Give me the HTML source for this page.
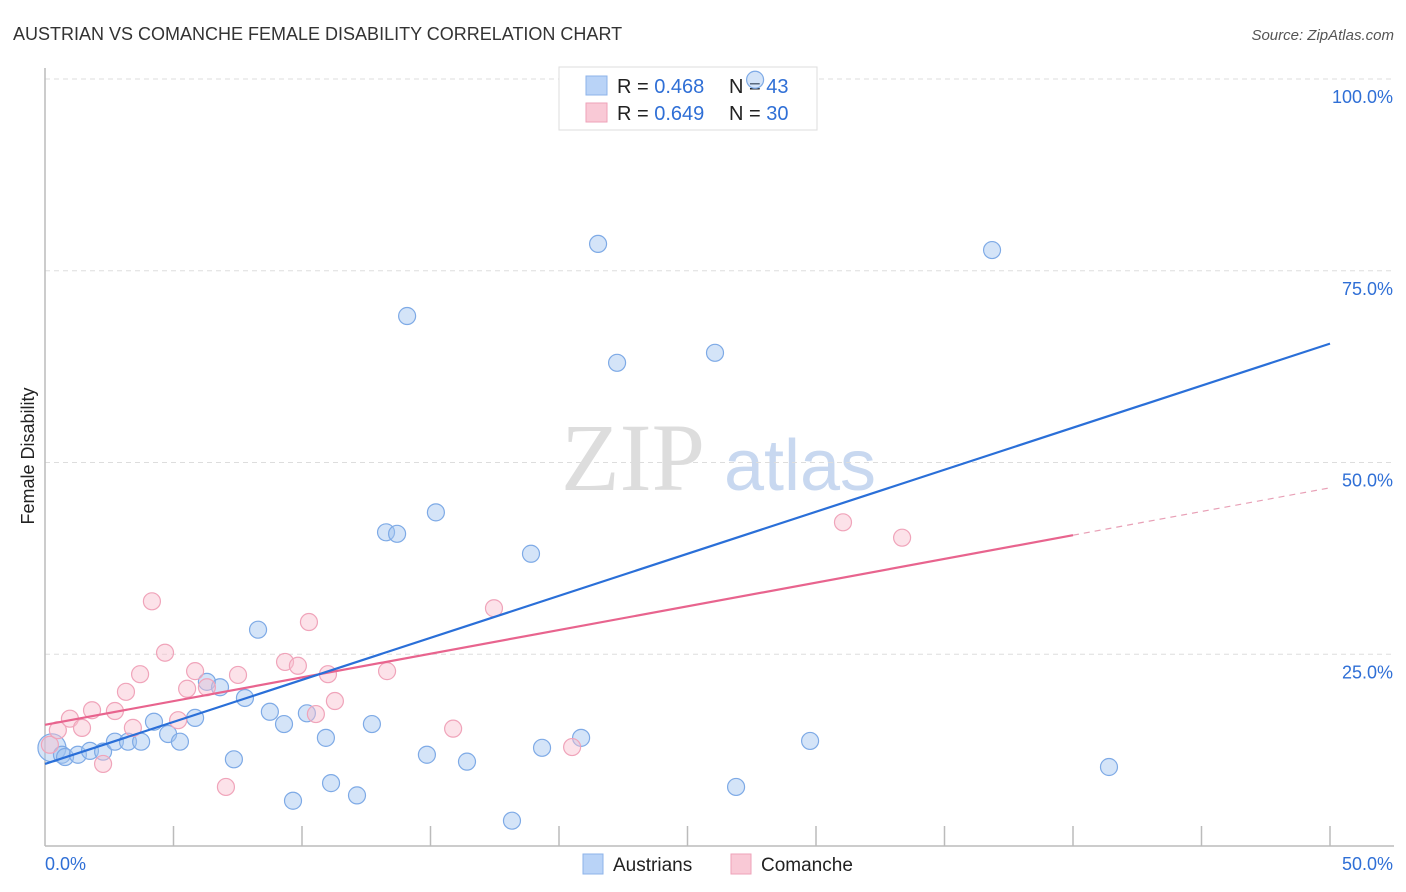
<!DOCTYPE html>
<html><head><meta charset="utf-8"><style>
body{margin:0;background:#fff;font-family:"Liberation Sans",sans-serif;}
svg{display:block}
</style></head><body>
<svg id="chart" width="1406" height="892">
<text x="13" y="40" font-size="18" fill="#333">AUSTRIAN VS COMANCHE FEMALE DISABILITY CORRELATION CHART</text>
<text x="1394" y="40" font-size="15" fill="#555" font-style="italic" text-anchor="end">Source: ZipAtlas.com</text>
<g>
<text x="633" y="490" font-size="96" font-family="Liberation Serif,serif" fill="#ddd" text-anchor="middle">ZIP</text>
<text x="800" y="490" font-size="72" fill="#c8d8f0" text-anchor="middle">atlas</text>
</g>
<text transform="translate(34,456) rotate(-90)" font-size="18" fill="#222" text-anchor="middle">Female Disability</text>
<g id="grid"></g><g id="axes"></g>
<g>
<rect x="559" y="67" width="258" height="63" fill="#fff" stroke="#ddd"/>
<rect x="586" y="76" width="21" height="19" fill="#b9d3f7" stroke="#8db3ea"/>
<text x="617" y="93" font-size="20" fill="#222">R = <tspan fill="#2f6fd6">0.468</tspan><tspan x="729">N = </tspan><tspan fill="#2f6fd6">43</tspan></text>
<rect x="586" y="103" width="21" height="19" fill="#f9c9d6" stroke="#eea2b8"/>
<text x="617" y="120" font-size="20" fill="#222">R = <tspan fill="#2f6fd6">0.649</tspan><tspan x="729">N = </tspan><tspan fill="#2f6fd6">30</tspan></text>
</g>
<g id="marks"></g>
<g>
<rect x="583" y="854" width="20" height="20" fill="#b9d3f7" stroke="#8db3ea"/>
<text x="613" y="871" font-size="19" fill="#222">Austrians</text>
<rect x="731" y="854" width="20" height="20" fill="#f9c9d6" stroke="#eea2b8"/>
<text x="761" y="871" font-size="19" fill="#222">Comanche</text>
</g>
</svg>
<script>
const blueX=[0.27,0.66,0.78,1.28,1.75,2.26,2.72,3.23,3.74,4.24,4.79,5.25,5.84,6.30,6.81,7.35,7.78,8.29,8.75,9.30,9.65,10.19,10.93,11.13,12.14,12.72,13.27,13.70,14.09,14.86,15.21,16.42,18.17,18.91,19.34,20.86,21.52,22.26,26.07,26.89,27.63,29.77,36.85,41.40];
const blueY=[12.8,11.9,11.6,11.9,12.4,12.3,13.6,13.6,13.6,16.2,14.6,13.6,16.7,21.4,20.7,11.3,19.3,28.2,17.5,15.9,5.9,17.3,14.1,8.2,6.6,15.9,40.9,40.7,69.1,11.9,43.5,11.0,3.3,38.1,12.8,14.1,78.5,63.0,64.3,7.7,99.9,13.7,77.7,10.3];
const pinkX=[0.19,0.5,0.97,1.44,1.83,2.26,2.72,3.15,3.42,3.70,4.16,4.67,5.18,5.53,5.84,6.30,7.04,7.51,9.34,9.84,10.27,10.54,11.01,11.28,13.31,15.88,17.47,20.51,31.05,33.35];
const pinkY=[13.2,15.1,16.6,15.4,17.7,10.7,17.6,20.1,15.4,22.4,31.9,25.2,16.4,20.5,22.8,20.7,7.7,22.3,24.0,23.5,29.2,17.2,22.4,18.9,22.8,15.3,31.0,12.9,42.2,40.2];
const blueTrend=[10.7,65.5];
const pinkTrend=[15.8,46.7];
const pinkSolidEnd=40;
const yTicks=[25,50,75,100];
const yTickLabels=["25.0%","50.0%","75.0%","100.0%"];
const xTickCount=10;

const NS="http://www.w3.org/2000/svg";
const X0=45,X1=1330,Y0=846,Y100=79;
const sx=v=>X0+(X1-X0)*v/50;
const sy=v=>Y0-(Y0-Y100)*v/100;
function mk(tag,attrs,parent){const e=document.createElementNS(NS,tag);for(const k in attrs)e.setAttribute(k,attrs[k]);document.getElementById(parent).appendChild(e);return e;}

yTicks.forEach((t,i)=>{
  const g=mk('line',{x1:X0,x2:1394,y1:sy(t),y2:sy(t),stroke:'#ddd','stroke-dasharray':'5,4'},'grid');
  
  
  const l=mk('text',{x:1393,y:sy(t)+24,'font-size':18,fill:'#2f6fd6','text-anchor':'end'},'grid');
  l.textContent=yTickLabels[i];
  
  
});
const ax=mk('line',{x1:X0,x2:X0,y1:68,y2:Y0,stroke:'#bbb','stroke-width':1.5},'axes');


const bx=mk('line',{x1:X0,x2:1394,y1:Y0,y2:Y0,stroke:'#bbb','stroke-width':1.5},'axes');


for(let i=1;i<=xTickCount;i++){
  const v=50*i/xTickCount;
  const t=mk('line',{x1:sx(v),x2:sx(v),y1:826,y2:Y0,stroke:'#bbb','stroke-width':1.5},'axes');
  
  
}
const xl0=mk('text',{x:45,y:870,'font-size':18,fill:'#2f6fd6'},'axes');xl0.textContent='0.0%';


const xl1=mk('text',{x:1393,y:870,'font-size':18,fill:'#2f6fd6','text-anchor':'end'},'axes');xl1.textContent='50.0%';



blueX.forEach((x,i)=>{
  const c=mk('circle',{cx:sx(x),cy:sy(blueY[i]),r:(i==0?14:8.5),fill:'rgba(160,195,240,0.45)',stroke:'#7eaae6','stroke-width':1.2},'marks');
  
  
});
pinkX.forEach((x,i)=>{
  const c=mk('circle',{cx:sx(x),cy:sy(pinkY[i]),r:8.5,fill:'rgba(248,190,206,0.45)',stroke:'#f0a4ba','stroke-width':1.2},'marks');
  
  
});
const pAt=x=>pinkTrend[0]+(pinkTrend[1]-pinkTrend[0])*x/50;
const pl=mk('line',{x1:sx(0),y1:sy(pinkTrend[0]),x2:sx(pinkSolidEnd),y2:sy(pAt(pinkSolidEnd)),stroke:'#e8648e','stroke-width':2.2},'marks');


const pd=mk('line',{x1:sx(pinkSolidEnd),y1:sy(pAt(pinkSolidEnd)),x2:sx(50),y2:sy(pinkTrend[1]),stroke:'#e8a0b6','stroke-width':1.2,'stroke-dasharray':'6,5'},'marks');


const bl=mk('line',{x1:sx(0),y1:sy(blueTrend[0]),x2:sx(50),y2:sy(blueTrend[1]),stroke:'#2a6fd8','stroke-width':2.2},'marks');


</script>
</body></html>
